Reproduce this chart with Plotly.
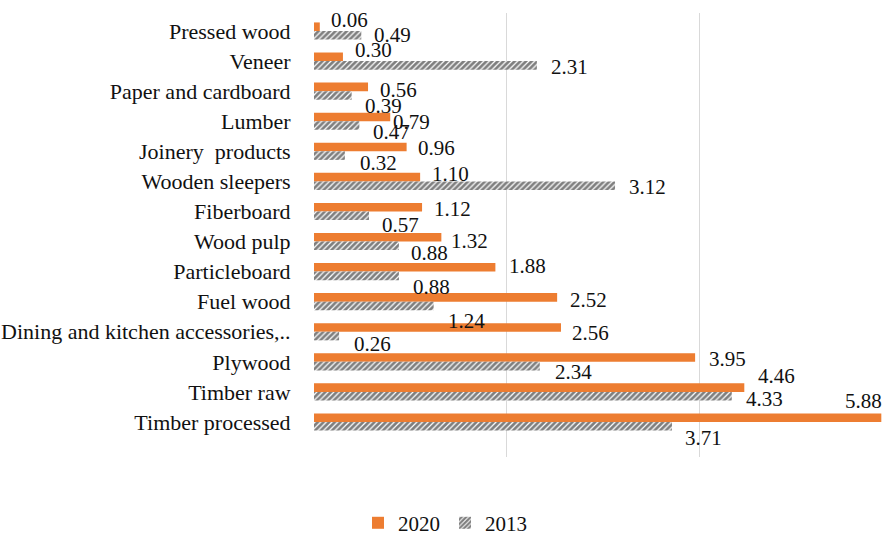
import plotly.graph_objects as go

categories = ["Pressed wood", "Veneer", "Paper and cardboard", "Lumber", "Joinery  products",
              "Wooden sleepers", "Fiberboard", "Wood pulp", "Particleboard", "Fuel wood",
              "Dining and kitchen accessories,..", "Plywood", "Timber raw", "Timber processed"]
values_2020 = [0.06, 0.30, 0.56, 0.79, 0.96, 1.10, 1.12, 1.32, 1.88, 2.52, 2.56, 3.95, 4.46, 5.88]
values_2013 = [0.49, 2.31, 0.39, 0.47, 0.32, 3.12, 0.57, 0.88, 0.88, 1.24, 0.26, 2.34, 4.33, 3.71]

# label offsets (pixels): dx right of bar end, dy downward from row centre
dx_2020 = [30, 31, 30, 21, 30, 30, 30, 28, 32, 31, 30, 32, 32, -18]
dy_2020 = [-11, -11, -1, 1, -3, -7, -2, -1, -6, -1.5, 1, -3, -16, -21]
dx_2013 = [31, 33, 32, 32, 34, 32, 32, 31, 33, 33, 33, 34, 33, 32]
dy_2013 = [4, 6, 15, 11, 12, 6, 14, 11, 15, 19, 12, 10, 7, 16]

FONT = "Liberation Serif"
ORANGE = "#ED7D31"

fig = go.Figure()
fig.add_trace(go.Bar(
    y=categories, x=values_2020, orientation="h", name="2020",
    marker=dict(color=ORANGE, line=dict(width=0)),
))
fig.add_trace(go.Bar(
    y=categories, x=values_2013, orientation="h", name="2013",
    marker=dict(color="white", line=dict(width=0),
                pattern=dict(shape="/", fgcolor="#000000", bgcolor="white",
                             size=4, solidity=0.7)),
))

annotations = []
for i, c in enumerate(categories):
    annotations.append(dict(x=values_2020[i], y=c, xref="x", yref="y",
                            text=f"{values_2020[i]:.2f}", showarrow=False,
                            xanchor="center", yanchor="middle",
                            xshift=dx_2020[i], yshift=-dy_2020[i],
                            font=dict(family=FONT, size=21, color="#111")))
    annotations.append(dict(x=values_2013[i], y=c, xref="x", yref="y",
                            text=f"{values_2013[i]:.2f}", showarrow=False,
                            xanchor="center", yanchor="middle",
                            xshift=dx_2013[i], yshift=-dy_2013[i],
                            font=dict(family=FONT, size=21, color="#111")))

fig.update_layout(
    width=890, height=536,
    margin=dict(l=314, r=0, t=13, b=79),
    paper_bgcolor="white", plot_bgcolor="white",
    barmode="group", bargap=0.43, bargroupgap=0,
    font=dict(family=FONT, size=21, color="#111"),
    showlegend=True,
    legend=dict(orientation="h", xref="container", yref="container",
                x=0.5, y=0.024, xanchor="center", yanchor="middle",
                font=dict(family=FONT, size=21, color="#111"),
                itemwidth=30),
    annotations=annotations,
)
fig.update_xaxes(range=[0, 5.97], dtick=2, showgrid=True, gridcolor="#d9d9d9",
                 gridwidth=1, zeroline=False, showticklabels=False, showline=False)
fig.update_yaxes(autorange="reversed", showgrid=False, zeroline=False, showline=False,
                 ticks="outside", ticklen=18, tickcolor="rgba(0,0,0,0)",
                 tickfont=dict(family=FONT, size=22, color="#111"))

fig.write_html("out.html")
